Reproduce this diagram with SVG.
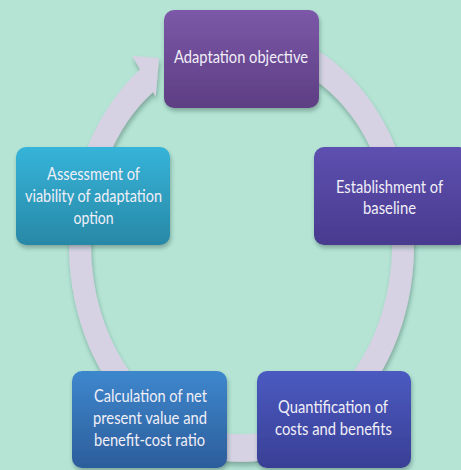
<svg xmlns="http://www.w3.org/2000/svg" width="461" height="470" viewBox="0 0 461 470">
  <defs>
    <linearGradient id="gTop" x1="0" y1="0" x2="0" y2="1">
      <stop offset="0" stop-color="#7c58a8"/>
      <stop offset="1" stop-color="#5d3e83"/>
    </linearGradient>
    <linearGradient id="gRight" x1="0" y1="0" x2="0" y2="1">
      <stop offset="0" stop-color="#5d50b0"/>
      <stop offset="1" stop-color="#493a8e"/>
    </linearGradient>
    <linearGradient id="gLeft" x1="0" y1="0" x2="0" y2="1">
      <stop offset="0" stop-color="#35b4d9"/>
      <stop offset="1" stop-color="#2888a6"/>
    </linearGradient>
    <linearGradient id="gCalc" x1="0" y1="0" x2="0" y2="1">
      <stop offset="0" stop-color="#3e87cd"/>
      <stop offset="1" stop-color="#2c5d9b"/>
    </linearGradient>
    <linearGradient id="gQuant" x1="0" y1="0" x2="0" y2="1">
      <stop offset="0" stop-color="#4b5ac0"/>
      <stop offset="1" stop-color="#393f95"/>
    </linearGradient>
    <filter id="shadow" x="-10%" y="-10%" width="125%" height="130%">
      <feDropShadow dx="1" dy="3" stdDeviation="2" flood-color="#1e3a30" flood-opacity="0.35"/>
    </filter>
  </defs>
  <style>
    .box { filter: url(#shadow); }
    .lbl { font-family: Lato, "Noto Sans", "Liberation Sans", sans-serif; font-size: 14px; fill: #f1eff8; text-anchor: middle; }
    .ring { fill: #d6d2e3; filter: url(#shadow); }
  </style>
  <rect x="0" y="0" width="461" height="470" fill="#b5e4d5"/>

  <g id="connectors">
    <path class="ring" transform="translate(241.5,245) scale(1,1.257)" d="M 29.95,-169.88 A 172.5 172.5 0 1 1 -101.39,-139.56 L -109.33,-150.48 L -82.42,-148.69 L -85.82,-118.12 L -88.46,-121.76 A 150.5 150.5 0 1 0 26.13,-148.21 Z"/>
  </g>

  <g id="node-adaptation-objective">
    <rect class="box" x="164" y="10" width="155" height="98" rx="10" fill="url(#gTop)"/>
    <text class="lbl" transform="translate(241,63) scale(1,1.257)" textLength="134" lengthAdjust="spacingAndGlyphs">Adaptation objective</text>
  </g>

  <g id="node-establishment">
    <rect class="box" x="314" y="147" width="155" height="98" rx="10" fill="url(#gRight)"/>
    <text class="lbl" transform="translate(389.5,193) scale(1,1.257)" textLength="107" lengthAdjust="spacingAndGlyphs">Establishment of</text>
    <text class="lbl" transform="translate(389.5,214) scale(1,1.257)" textLength="53" lengthAdjust="spacingAndGlyphs">baseline</text>
  </g>

  <g id="node-assessment">
    <rect class="box" x="16" y="147" width="154" height="98" rx="10" fill="url(#gLeft)"/>
    <text class="lbl" transform="translate(93.5,180) scale(1,1.257)" textLength="93" lengthAdjust="spacingAndGlyphs">Assessment of</text>
    <text class="lbl" transform="translate(93.5,202) scale(1,1.257)" textLength="137" lengthAdjust="spacingAndGlyphs">viability of adaptation</text>
    <text class="lbl" transform="translate(93.5,224) scale(1,1.257)">option</text>
  </g>

  <g id="node-calculation">
    <rect class="box" x="72" y="371" width="155" height="97" rx="10" fill="url(#gCalc)"/>
    <text class="lbl" transform="translate(150.5,402) scale(1,1.257)" textLength="113" lengthAdjust="spacingAndGlyphs">Calculation of net</text>
    <text class="lbl" transform="translate(150,424) scale(1,1.257)" textLength="114" lengthAdjust="spacingAndGlyphs">present value and</text>
    <text class="lbl" transform="translate(149.5,446) scale(1,1.257)" textLength="111" lengthAdjust="spacingAndGlyphs">benefit-cost ratio</text>
  </g>

  <g id="node-quantification">
    <rect class="box" x="257" y="371" width="154" height="97" rx="10" fill="url(#gQuant)"/>
    <text class="lbl" transform="translate(333,413) scale(1,1.257)" textLength="110" lengthAdjust="spacingAndGlyphs">Quantification of</text>
    <text class="lbl" transform="translate(333.5,435) scale(1,1.257)" textLength="117" lengthAdjust="spacingAndGlyphs">costs and benefits</text>
  </g>
</svg>
